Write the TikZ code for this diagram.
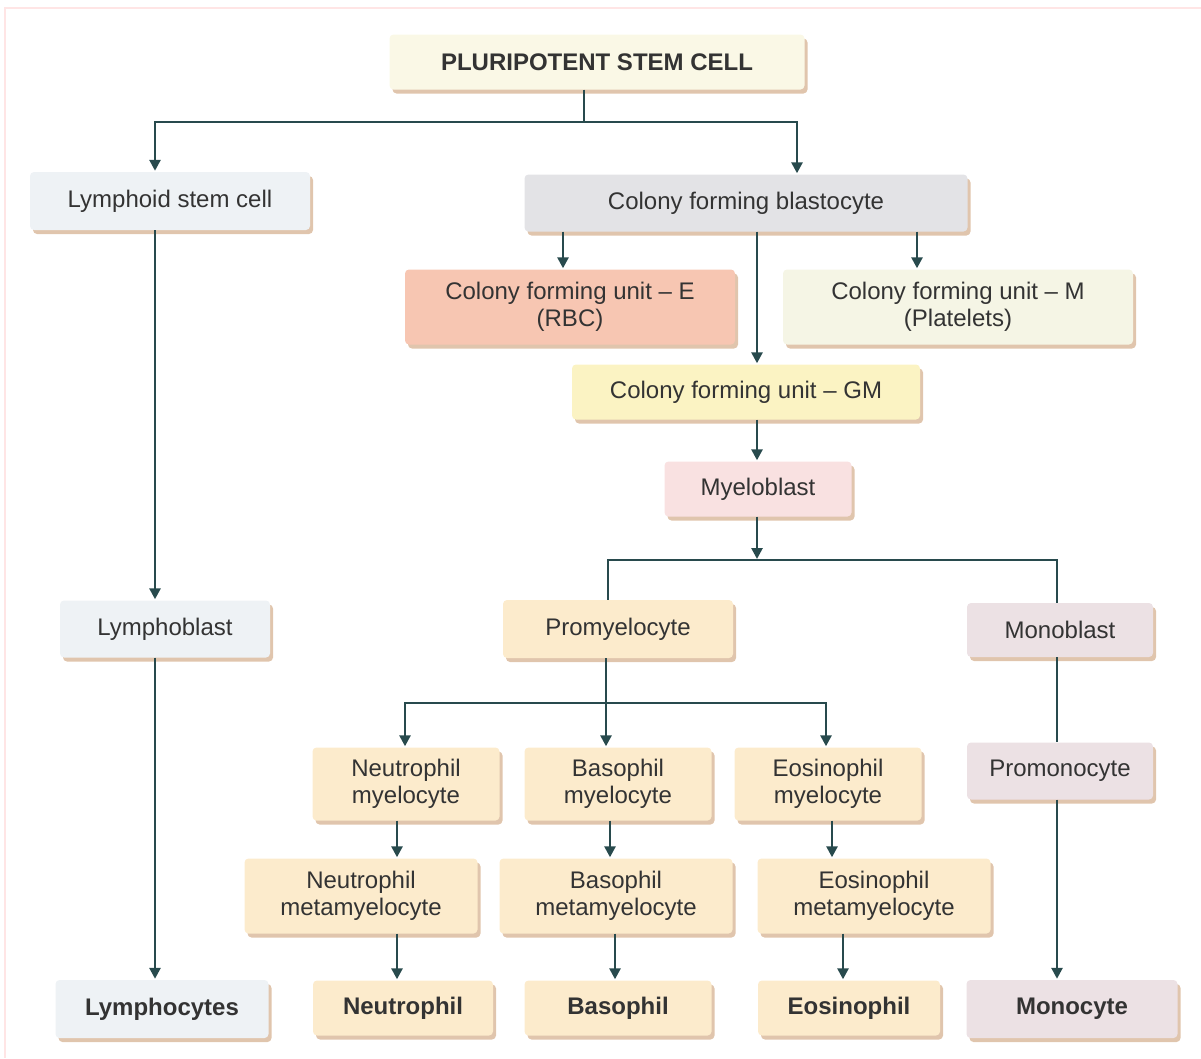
\documentclass[tikz,border=0pt]{standalone}
\usepackage{fontspec}
\setmainfont{Liberation Sans}
\usetikzlibrary{arrows.meta, shadows, calc}
\definecolor{linecol}{HTML}{284A4D}
\definecolor{txtcol}{HTML}{333333}
\definecolor{shadowcol}{HTML}{DDBFA4}
\definecolor{pscfill}{HTML}{FAF8E6}
\definecolor{lymfill}{HTML}{EEF2F5}
\definecolor{blastfill}{HTML}{E3E3E6}
\definecolor{efill}{HTML}{F7C6B2}
\definecolor{mfill}{HTML}{F5F5E5}
\definecolor{gmfill}{HTML}{FBF3C3}
\definecolor{myelofill}{HTML}{F9E1E1}
\definecolor{granfill}{HTML}{FCEBCC}
\definecolor{monofill}{HTML}{ECE1E4}

\begin{document}
\begin{tikzpicture}[x = 1pt, y = -1pt]
  \tikzset{>=latex,
    box/.style = {rounded corners = 4pt, align = center, text = txtcol, inner sep = 0pt,
      font = \fontsize{24}{27}\selectfont,
      drop shadow = {shadow xshift = 3pt, shadow yshift = -4pt, fill = shadowcol, opacity = 0.9}},
    boldbox/.style = {box, font = \fontsize{24}{27}\selectfont\bfseries},
    line/.style = {draw = linecol, line width = 2.6pt},
    arr/.style = {line, -{Triangle[length = 11pt, width = 11pt]}, shorten >= 1pt}
  }
  \useasboundingbox (0,0) rectangle (1201,1058);
  \draw[red!10, line width = 2pt] (5,1058) -- (5,8) -- (1201,8);

  % top rows
  \node[boldbox, fill = pscfill, minimum width = 415pt, minimum height = 55pt] (psc) at (597,62) {PLURIPOTENT STEM CELL};
  \node[box, fill = lymfill, minimum width = 280pt, minimum height = 58pt] (lsc) at (170,201) {Lymphoid stem cell};
  \node[box, fill = blastfill, minimum width = 443pt, minimum height = 57pt] (cfb) at (746,203) {Colony forming blastocyte};
  \node[box, fill = efill, minimum width = 330pt, minimum height = 75pt] (cfue) at (570,307) {Colony forming unit -- E\\(RBC)};
  \node[box, fill = mfill, minimum width = 350pt, minimum height = 75pt] (cfum) at (958,307) {Colony forming unit -- M\\(Platelets)};
  \node[box, fill = gmfill, minimum width = 348pt, minimum height = 55pt] (cfugm) at (746,392) {Colony forming unit -- GM};
  \node[box, fill = myelofill, minimum width = 187pt, minimum height = 55pt] (myelo) at (758,489) {Myeloblast};

  % middle rows
  \node[box, fill = lymfill, minimum width = 210pt, minimum height = 57pt] (lb) at (165,629) {Lymphoblast};
  \node[box, fill = granfill, minimum width = 230pt, minimum height = 58pt] (promy) at (618,629) {Promyelocyte};
  \node[box, fill = monofill, minimum width = 186pt, minimum height = 54pt] (monob) at (1060,630) {Monoblast};
  \node[box, fill = granfill, minimum width = 187pt, minimum height = 73pt] (nmy) at (406,784) {Neutrophil\\myelocyte};
  \node[box, fill = granfill, minimum width = 187pt, minimum height = 73pt] (bmy) at (618,784) {Basophil\\myelocyte};
  \node[box, fill = granfill, minimum width = 187pt, minimum height = 73pt] (emy) at (828,784) {Eosinophil\\myelocyte};
  \node[box, fill = monofill, minimum width = 186pt, minimum height = 57pt] (promono) at (1060,771) {Promonocyte};
  \node[box, fill = granfill, minimum width = 233pt, minimum height = 75pt] (nmm) at (361,896) {Neutrophil\\metamyelocyte};
  \node[box, fill = granfill, minimum width = 233pt, minimum height = 75pt] (bmm) at (616,896) {Basophil\\metamyelocyte};
  \node[box, fill = granfill, minimum width = 233pt, minimum height = 75pt] (emm) at (874,896) {Eosinophil\\metamyelocyte};

  % bottom row
  \node[boldbox, fill = lymfill, minimum width = 213pt, minimum height = 58pt] (lymc) at (162,1009) {Lymphocytes};
  \node[boldbox, fill = granfill, minimum width = 180pt, minimum height = 55pt] (neut) at (403,1008) {Neutrophil};
  \node[boldbox, fill = granfill, minimum width = 187pt, minimum height = 55pt] (baso) at (618,1008) {Basophil};
  \node[boldbox, fill = granfill, minimum width = 182pt, minimum height = 55pt] (eos) at (849,1008) {Eosinophil};
  \node[boldbox, fill = monofill, minimum width = 211pt, minimum height = 58pt] (mono) at (1072,1009) {Monocyte};

  % junctions
  \coordinate (j1) at (584,122);
  \coordinate (j2) at (757,560);
  \coordinate (j3) at (606,703);

  \draw[line] ([xshift = -13pt]psc.south) -- (j1);
  \draw[arr] (j1) -| ([xshift = -15pt]lsc.north);
  \draw[arr] (j1) -| ([xshift = 51pt]cfb.north);

  \draw[arr] ([xshift = -7pt]cfue.north |- cfb.south) -- ([xshift = -7pt]cfue.north);
  \draw[arr] ([xshift = -41pt]cfum.north |- cfb.south) -- ([xshift = -41pt]cfum.north);
  \draw[arr] ([xshift = 11pt]cfb.south) -- ([xshift = 11pt]cfugm.north);
  \draw[arr] ([xshift = 11pt]cfugm.south) -- ([xshift = -1pt]myelo.north);
  \draw[arr] ([xshift = -1pt]myelo.south) -- (j2);
  \draw[line] ([xshift = -10pt]promy.north) |- (j2) -| ([xshift = -3pt]monob.north);

  \draw[arr] ([xshift = -15pt]lsc.south) -- ([xshift = -15pt]lsc.south |- lb.north);
  \draw[arr] ([xshift = -10pt]lb.south) -- ([xshift = -10pt]lb.south |- lymc.north);

  \draw[line] ([xshift = -12pt]promy.south) -- (j3);
  \draw[arr] (j3) -| ([xshift = -1pt]nmy.north);
  \draw[arr] (j3) -- ([xshift = -12pt]bmy.north);
  \draw[arr] (j3) -| ([xshift = -2pt]emy.north);

  \draw[line] ([xshift = -3pt]monob.south) -- ([xshift = -3pt]promono.north);
  \draw[arr] ([xshift = -3pt]promono.south) -- ([xshift = -3pt]promono.south |- mono.north);

  \draw[arr] ([xshift = -9pt]nmy.south) -- ([xshift = -9pt]nmy.south |- nmm.north);
  \draw[arr] ([xshift = -8pt]bmy.south) -- ([xshift = -8pt]bmy.south |- bmm.north);
  \draw[arr] ([xshift = 4pt]emy.south) -- ([xshift = 4pt]emy.south |- emm.north);

  \draw[arr] ([xshift = 36pt]nmm.south) -- ([xshift = 36pt]nmm.south |- neut.north);
  \draw[arr] ([xshift = -1pt]bmm.south) -- ([xshift = -1pt]bmm.south |- baso.north);
  \draw[arr] ([xshift = -31pt]emm.south) -- ([xshift = -31pt]emm.south |- eos.north);
\end{tikzpicture}
\end{document}
